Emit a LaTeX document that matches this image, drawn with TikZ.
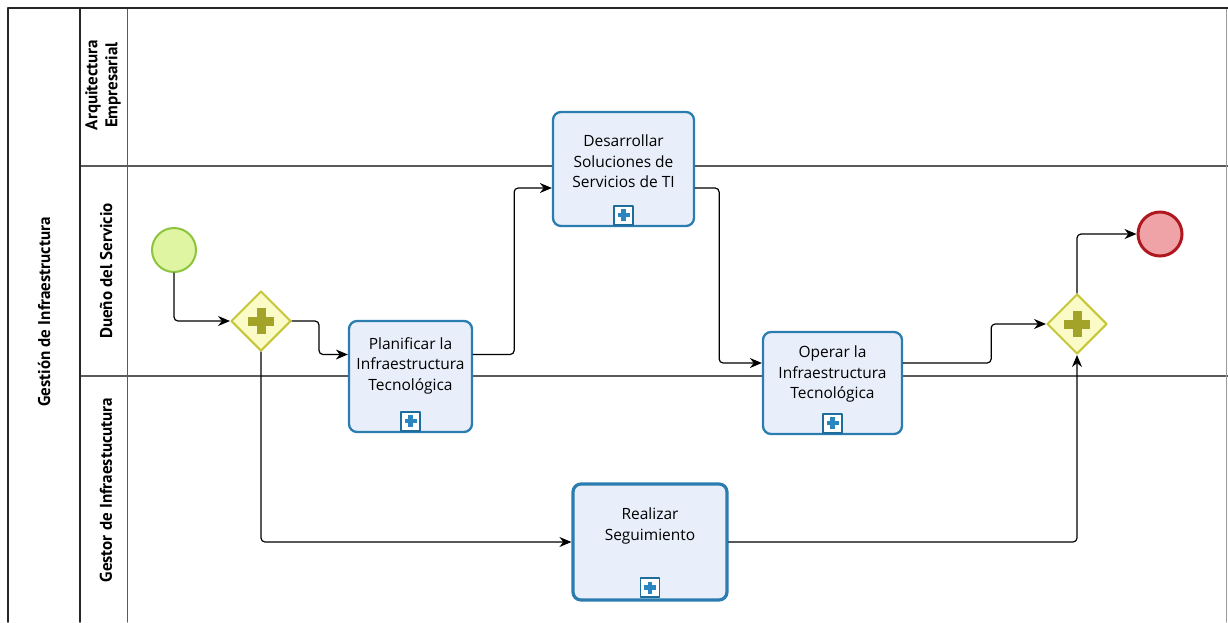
\documentclass[tikz,border=0pt]{standalone}
\usepackage{fontspec}
\setmainfont{Open Sans}
\newfontfamily\lanefont{PT Sans}
\usetikzlibrary{shapes.geometric,arrows.meta}

% colores del diagrama
\definecolor{taskfill}{HTML}{E9EFFA}
\definecolor{taskline}{HTML}{2B7DB0}
\definecolor{markline}{HTML}{1E6C9C}
\definecolor{markplus}{HTML}{2A86C0}
\definecolor{gatefill}{HTML}{FBFBC8}
\definecolor{gateline}{HTML}{C6C63A}
\definecolor{gateplus}{HTML}{A3A32A}
\definecolor{startfill}{HTML}{DFF5A2}
\definecolor{startline}{HTML}{8CC43E}
\definecolor{endfill}{HTML}{EFA3A7}
\definecolor{endline}{HTML}{B0181F}
\definecolor{laneline}{HTML}{5A5A5A}

\begin{document}
\begin{tikzpicture}[x=1pt,y=-1pt,line join=round,line cap=round,
  >={Stealth[length=12pt,width=10pt]},
  task/.style={draw=taskline,fill=taskfill,line width=2.3pt,rounded corners=8pt,
    align=center,inner sep=0pt,font=\fontsize{15.5}{20.5}\selectfont},
  submark/.style={draw=markline,fill=white,line width=1.8pt,minimum size=19pt,inner sep=0pt,
    path picture={
      \fill[markplus] ([xshift=-6pt,yshift=-2.2pt]path picture bounding box.center)
        rectangle ([xshift=6pt,yshift=2.2pt]path picture bounding box.center);
      \fill[markplus] ([xshift=-2.2pt,yshift=-6pt]path picture bounding box.center)
        rectangle ([xshift=2.2pt,yshift=6pt]path picture bounding box.center);}},
  gate/.style={diamond,draw=gateline,fill=gatefill,line width=2pt,minimum width=60pt,
    minimum height=60pt,inner sep=0pt,
    path picture={
      \fill[gateplus] ([xshift=-13pt,yshift=-4.5pt]path picture bounding box.center)
        rectangle ([xshift=13pt,yshift=4.5pt]path picture bounding box.center);
      \fill[gateplus] ([xshift=-4.5pt,yshift=-13pt]path picture bounding box.center)
        rectangle ([xshift=4.5pt,yshift=13pt]path picture bounding box.center);}},
  startev/.style={circle,draw=startline,fill=startfill,line width=2pt,minimum size=44pt,inner sep=0pt},
  endev/.style={circle,draw=endline,fill=endfill,line width=3pt,minimum size=44pt,inner sep=0pt},
  flow/.style={->,line width=1.2pt,rounded corners=4pt},
  lane/.style={rotate=90,align=center,font=\lanefont\bfseries\fontsize{17}{20}\selectfont}]

\useasboundingbox (0,0) rectangle (1228,622);

% Carriles
\draw[laneline,line width=1.2pt] (80,166) -- (1228,166);
\draw[laneline,line width=1.2pt] (80,376) -- (1228,376);
\draw[laneline,line width=1pt] (127,8) -- (127,622);
\draw[laneline!60,line width=1pt] (1226,8) -- (1226,622);
\draw[black!85,line width=1.5pt] (8,622) -- (8,8) -- (1228,8);
\draw[black!85,line width=1.5pt] (80,8) -- (80,622);

% Nombres de pool y carriles
\node[lane] (pool) at (44,312) {Gestión de Infraestructura};
\node[lane] (arq) at (103,85) {Arquitectura\\Empresarial};
\node[lane] (due) at (106,271) {Dueño del Servicio};
\node[lane] (ges) at (106,490) {Gestor de Infraestucutura};

% Eventos y compuertas
\node[startev] (ini) at (174,250) {};
\node[gate] (g1) at (261,321) {};
\node[gate] (g2) at (1077,324) {};
\node[endev] (fin) at (1160,234) {};

% Subprocesos
\node[task,minimum width=123pt,minimum height=111pt,text depth=25pt] (pla) at (410.5,376.5)
  {Planificar la\\Infraestructura\\Tecnológica};
\node[task,minimum width=141pt,minimum height=114pt,text depth=15pt] (des) at (623.5,169)
  {Desarrollar\\Soluciones de\\Servicios de TI};
\node[task,minimum width=139pt,minimum height=102pt,text depth=21pt] (ope) at (832.5,383)
  {Operar la\\Infraestructura\\Tecnológica};
\node[task,line width=3.2pt,minimum width=154pt,minimum height=116pt,text depth=36pt] (rea) at (650,542)
  {Realizar\\Seguimiento};

\node[submark] (plam) at ([yshift=12pt]pla.south) {};
\node[submark] (desm) at ([yshift=12pt]des.south) {};
\node[submark] (opem) at ([yshift=12pt]ope.south) {};
\node[submark] (ream) at ([yshift=14pt]rea.south) {};

% Flujos
\draw[flow] (ini.south) |- (g1.west);
\draw[flow] (g1.east) -- ++(27,0) |- ([yshift=22pt]pla.west);
\draw[flow] ([yshift=22pt]pla.east) -- ++(41,0) |- ([yshift=-19pt]des.west);
\draw[flow] ([yshift=-19pt]des.east) -- ++(24,0) |- ([yshift=20pt]ope.west);
\draw[flow] ([yshift=20pt]ope.east) -- ++(88,0) |- (g2.west);
\draw[flow] (g1.south) |- (rea.west);
\draw[flow] (rea.east) -| (g2.south);
\draw[flow] (g2.north) |- (fin.west);

\end{tikzpicture}
\end{document}
